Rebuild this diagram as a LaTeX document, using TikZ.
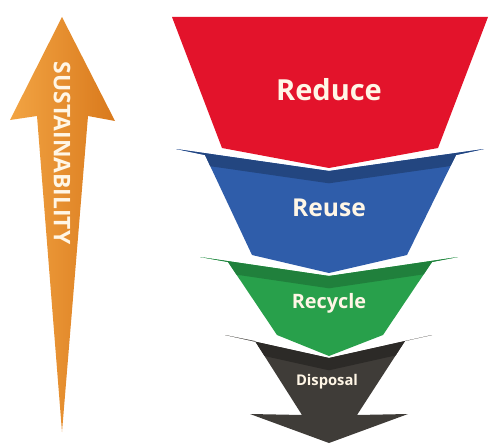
\documentclass[tikz,border=0pt]{standalone}
\usepackage{fontspec}
\setmainfont{Open Sans}
\usepackage{tikz}
\usetikzlibrary{positioning}
\definecolor{redR}{HTML}{E3132B}
\definecolor{blueR}{HTML}{2F5DAA}
\definecolor{greenR}{HTML}{28A04B}
\definecolor{grayR}{HTML}{3F3C38}
\definecolor{orangeL}{HTML}{F2A443}
\definecolor{orangeD}{HTML}{D9791C}
\definecolor{cream}{HTML}{FFF6E6}

\begin{document}
\begin{tikzpicture}[x=0.02cm,y=-0.02cm,
  label/.style={text=cream,font=\bfseries,inner sep=0pt}]

\useasboundingbox (0,0) rectangle (500,446);

% sustainability arrow
\coordinate (s1) at (62,17);
\coordinate (s2) at (115,121);
\coordinate (s3) at (88,116);
\coordinate (s4) at (62,432);
\coordinate (s5) at (37,116);
\coordinate (s6) at (10,120);

% red
\coordinate (r1) at (172,17);
\coordinate (r2) at (488,17);
\coordinate (r3) at (438,148);
\coordinate (r4) at (329,168);
\coordinate (r5) at (222,148);

% blue
\coordinate (b1) at (176,149);
\coordinate (b2) at (329,171);
\coordinate (b3) at (484,149);
\coordinate (b4) at (456,155);
\coordinate (b5) at (407,255);
\coordinate (b6) at (329,273);
\coordinate (b7) at (252,255);
\coordinate (b8) at (205,155);

% green
\coordinate (g1) at (200,257);
\coordinate (g2) at (329,276);
\coordinate (g3) at (458,257);
\coordinate (g4) at (432,262);
\coordinate (g5) at (383,335);
\coordinate (g6) at (329,356);
\coordinate (g7) at (277,335);
\coordinate (g8) at (228,262);

% gray
\coordinate (d1) at (225,335);
\coordinate (d2) at (329,358);
\coordinate (d3) at (432,335);
\coordinate (d4) at (405,341);
\coordinate (d5) at (357,415);
\coordinate (d6) at (408,414);
\coordinate (d7) at (329,443);
\coordinate (d8) at (250,414);
\coordinate (d9) at (302,415);
\coordinate (d10) at (255,341);

\shade[left color=orangeL,right color=orangeD] (s1) -- (s2) -- (s3) -- (s4) -- (s5) -- (s6) -- cycle;

\fill[grayR] (d1) -- (d2) -- (d3) -- (d4) -- (d5) -- (d6) -- (d7) -- (d8) -- (d9) -- (d10) -- cycle;
\begin{scope}
\clip (d1) -- (d2) -- (d3) -- (d4) -- (d5) -- (d6) -- (d7) -- (d8) -- (d9) -- (d10) -- cycle;
\fill[grayR!70!black] (d1) -- (d2) -- (d3) -- ([yshift=-7]d3) -- ([yshift=-7]d2) -- ([yshift=-7]d1) -- cycle;
\end{scope}

\fill[greenR] (g1) -- (g2) -- (g3) -- (g4) -- (g5) -- (g6) -- (g7) -- (g8) -- cycle;
\begin{scope}
\clip (g1) -- (g2) -- (g3) -- (g4) -- (g5) -- (g6) -- (g7) -- (g8) -- cycle;
\fill[greenR!80!black] (g1) -- (g2) -- (g3) -- ([yshift=-7]g3) -- ([yshift=-7]g2) -- ([yshift=-7]g1) -- cycle;
\end{scope}

\fill[blueR] (b1) -- (b2) -- (b3) -- (b4) -- (b5) -- (b6) -- (b7) -- (b8) -- cycle;
\begin{scope}
\clip (b1) -- (b2) -- (b3) -- (b4) -- (b5) -- (b6) -- (b7) -- (b8) -- cycle;
\fill[blueR!75!black] (b1) -- (b2) -- (b3) -- ([yshift=-7]b3) -- ([yshift=-7]b2) -- ([yshift=-7]b1) -- cycle;
\end{scope}

\fill[redR] (r1) -- (r2) -- (r3) -- (r4) -- (r5) -- cycle;

\node[label,font=\fontsize{16.5}{18}\selectfont\bfseries] (reduce) at (329,90) {Reduce};
\node[label,font=\fontsize{14}{16}\selectfont\bfseries] (reuse) at (329,208) {Reuse};
\node[label,font=\fontsize{11.3}{13}\selectfont\bfseries] (recycle) at (329,303) {Recycle};
\node[label,font=\fontsize{8.4}{10}\selectfont\bfseries] (disposal) at (327,382) {Disposal};
\node[label,font=\fontsize{13}{15}\selectfont\bfseries,rotate=-90] (sust) at (62,153) {SUSTAINABILITY};
\end{tikzpicture}
\end{document}
